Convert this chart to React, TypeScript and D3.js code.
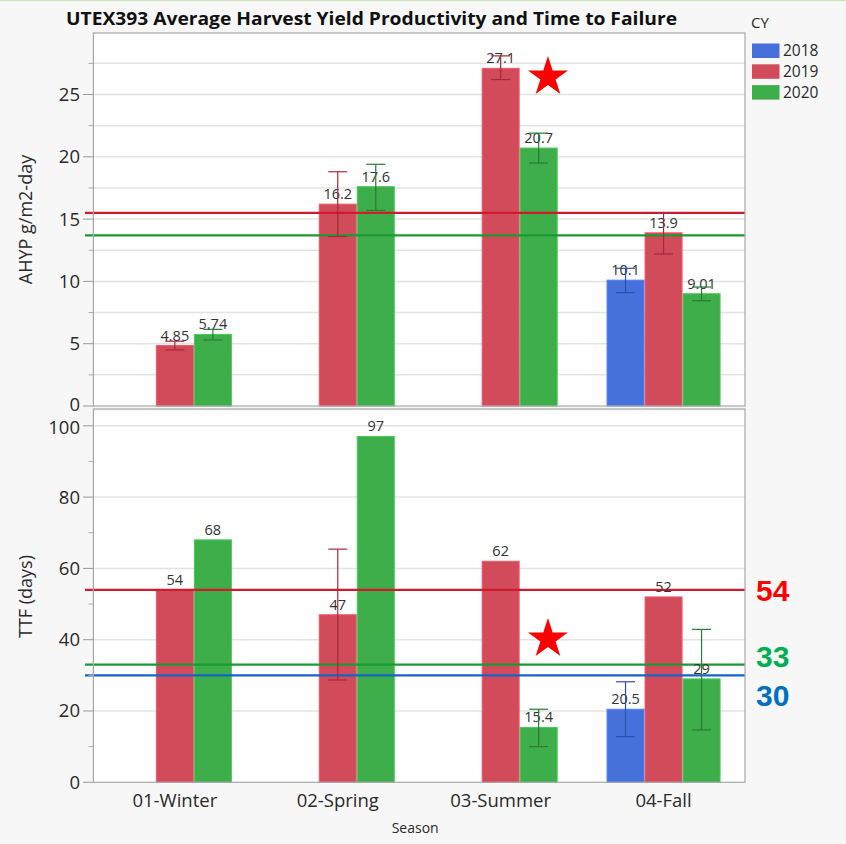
import React from "react";
import * as d3 from "d3";

// Seasons and crop years
const seasons = ["01-Winter", "02-Spring", "03-Summer", "04-Fall"];
const years = ["2018", "2019", "2020"];
const yearColors = ["#4671db", "#d24b5b", "#3dae49"];
const errColors = ["#2d4fae", "#a32a3c", "#2b7a37"];

// Average harvest yield productivity (g/m2-day): means and error-bar limits
const ahypMean2018 = [null, null, null, 10.1];
const ahypMean2019 = [4.85, 16.2, 27.1, 13.9];
const ahypMean2020 = [5.74, 17.6, 20.7, 9.01];
const ahypLow2018 = [null, null, null, 9.1];
const ahypHigh2018 = [null, null, null, 11.05];
const ahypLow2019 = [4.5, 13.6, 26.2, 12.2];
const ahypHigh2019 = [5.2, 18.8, 28.1, 15.5];
const ahypLow2020 = [5.3, 15.7, 19.5, 8.45];
const ahypHigh2020 = [6.15, 19.4, 21.9, 9.55];

// Time to failure (days): means and error-bar limits
const ttfMean2018 = [null, null, null, 20.5];
const ttfMean2019 = [54, 47, 62, 52];
const ttfMean2020 = [68, 97, 15.4, 29];
const ttfLow2018 = [null, null, null, 12.8];
const ttfHigh2018 = [null, null, null, 28.2];
const ttfLow2019 = [null, 28.7, null, null];
const ttfHigh2019 = [null, 65.4, null, null];
const ttfLow2020 = [null, null, 10, 14.7];
const ttfHigh2020 = [null, null, 20.5, 42.9];

// Overall averages drawn as reference lines
const ahypRefValues = [15.5, 13.7];
const ahypRefColors = ["#d11a2e", "#1b9a34"];
const ttfRefValues = [54, 33, 30];
const ttfRefColors = ["#d11a2e", "#1b9a34", "#1463c8"];
const ttfRefLabels = ["54", "33", "30"];
const ttfRefLabelAt = [54, 35.4, 24.5];
const ttfRefLabelColors = ["#ff0000", "#00b050", "#0070c0"];

// Axis ticks
const ahypTicks = [0, 5, 10, 15, 20, 25];
const ahypMinor = [2.5, 7.5, 12.5, 17.5, 22.5, 27.5];
const ttfTicks = [0, 20, 40, 60, 80, 100];
const ttfMinor = [10, 30, 50, 70, 90];

const W = 846;
const H = 844;
const left = 93.4;
const right = 745;
const FONT = "'Open Sans', 'Noto Sans', sans-serif";

const x = d3.scaleBand<string>().domain(seasons).range([left, right]).paddingInner(0.3).paddingOuter(0.15);
const xSub = d3.scaleBand<string>().domain(years).range([0, x.bandwidth()]);
const yTop = d3.scaleLinear().domain([0, 30]).range([406, 32.2]);
const yBot = d3.scaleLinear().domain([0, 100]).range([782.3, 425.8]);
const fmt = d3.format(".3~g");

type Row = { season: string; year: string; yi: number; mean: number; lo: number | null; hi: number | null };

function rows(means: (number | null)[][], lows: (number | null)[][], highs: (number | null)[][]): Row[] {
  const out: Row[] = [];
  years.forEach((year, yi) => {
    seasons.forEach((season, si) => {
      const m = means[yi][si];
      if (m == null) return;
      out.push({ season, year, yi, mean: m, lo: lows[yi][si], hi: highs[yi][si] });
    });
  });
  return out;
}

const ahypRows = rows(
  [ahypMean2018, ahypMean2019, ahypMean2020],
  [ahypLow2018, ahypLow2019, ahypLow2020],
  [ahypHigh2018, ahypHigh2019, ahypHigh2020]
);
const ttfRows = rows(
  [ttfMean2018, ttfMean2019, ttfMean2020],
  [ttfLow2018, ttfLow2019, ttfLow2020],
  [ttfHigh2018, ttfHigh2019, ttfHigh2020]
);

const starPath = d3.symbol().type(d3.symbolStar).size(495)() as string;

function Panel({ data, y, ticks, minor, grid, refs, refColors, top, bottom, tickDy }: any) {
  const bw = xSub.bandwidth();
  return (
    <g>
      <rect x={left} y={top} width={right - left} height={bottom - top} fill="#ffffff" />
      {grid.filter((t: number) => t > 0).map((t: number) => (
        <line key={"g" + t} x1={left} x2={right} y1={y(t)} y2={y(t)} stroke="#e3e3e3" strokeWidth={1.5} />
      ))}
      {data.map((d: Row) => {
        const bx = (x(d.season) as number) + (xSub(d.year) as number);
        return (
          <rect key={"b" + d.season + d.year} x={bx + 0.5} y={y(d.mean)} width={bw - 1} height={y(0) - y(d.mean)}
            fill={yearColors[d.yi]} stroke={d3.color(yearColors[d.yi])!.brighter(0.4).toString()} strokeWidth={1} />
        );
      })}
      {refs.map((v: number, i: number) => (
        <line key={"r" + i} x1={85} x2={right} y1={y(v)} y2={y(v)} stroke={refColors[i]} strokeWidth={2.2} />
      ))}
      {data.map((d: Row) => {
        const cx = (x(d.season) as number) + (xSub(d.year) as number) + bw / 2;
        return (
          <text key={"t" + d.season + d.year} x={cx} y={y(d.mean) - 5} textAnchor="middle" fontFamily={FONT}
            fontSize={14.5} fill="#333">{fmt(d.mean)}</text>
        );
      })}
      {data.filter((d: Row) => d.lo != null).map((d: Row) => {
        const cx = (x(d.season) as number) + (xSub(d.year) as number) + bw / 2;
        const c = errColors[d.yi];
        return (
          <g key={"e" + d.season + d.year} stroke={c} strokeWidth={1.2}>
            <line x1={cx} x2={cx} y1={y(d.lo as number)} y2={y(d.hi as number)} />
            <line x1={cx - 9.5} x2={cx + 9.5} y1={y(d.lo as number)} y2={y(d.lo as number)} />
            <line x1={cx - 9.5} x2={cx + 9.5} y1={y(d.hi as number)} y2={y(d.hi as number)} />
          </g>
        );
      })}
      {ticks.map((t: number) => (
        <g key={"k" + t}>
          <line x1={83} x2={left} y1={y(t)} y2={y(t)} stroke="#999" strokeWidth={1} />
          <text x={80} y={y(t)} dy={tickDy(t)} textAnchor="end" fontFamily={FONT} fontSize={18.5} fill="#2a2a2a">{t}</text>
        </g>
      ))}
      {minor.map((t: number) => (
        <line key={"m" + t} x1={88.5} x2={left} y1={y(t)} y2={y(t)} stroke="#aaa" strokeWidth={1} />
      ))}
    </g>
  );
}

export default function App() {
  const summerX = x("03-Summer") as number;
  return (
    <svg width={W} height={H} style={{ position: "absolute", left: 0, top: 0, display: "block" }}>
      <rect x={0} y={0} width={W} height={H} fill="#f7f7f7" />
      <line x1={0} x2={W} y1={0.5} y2={0.5} stroke="#cfe3bf" strokeWidth={1.5} />
      <text x={66} y={25} fontFamily="'Open Sans', sans-serif" fontWeight="bold" fontSize={18} fill="#111"
        textLength={611} lengthAdjust="spacingAndGlyphs">UTEX393 Average Harvest Yield Productivity and Time to Failure</text>

      <Panel data={ahypRows} y={yTop} ticks={ahypTicks} minor={ahypMinor}
        grid={[...ahypTicks, ...ahypMinor]} refs={ahypRefValues}
        refColors={ahypRefColors} top={33} bottom={406} tickDy={(t: number) => (t === 0 ? "0.25em" : "0.35em")} />
      <Panel data={ttfRows} y={yBot} ticks={ttfTicks} minor={ttfMinor} grid={ttfTicks} refs={ttfRefValues}
        refColors={ttfRefColors} top={411} bottom={782.3} tickDy={(t: number) => (t === 100 ? "0.42em" : "0.35em")} />

      {/* frames */}
      <rect x={left} y={33} width={right - left} height={373} fill="none" stroke="#a8a8a8" strokeWidth={1.2} />
      <rect x={left} y={409} width={right - left} height={373.3} fill="none" stroke="#a8a8a8" strokeWidth={1.2} />

      {/* highlight stars */}
      <path d={starPath} transform={`translate(${summerX + x.bandwidth() * 0.915},${yTop(26.4)})`} fill="#ff0000" />
      <path d={starPath} transform={`translate(${summerX + x.bandwidth() * 0.915},${yBot(40.2)})`} fill="#ff0000" />

      {/* reference values beside the lower panel */}
      {ttfRefLabels.map((s, i) => (
        <text key={s} x={756} y={yBot(ttfRefLabelAt[i])} dy="0.36em" fontFamily="'Liberation Sans', Arial, sans-serif"
          fontWeight="bold" fontSize={30} fill={ttfRefLabelColors[i]}>{s}</text>
      ))}

      {/* axis titles */}
      <text transform={`translate(26,${(33 + 406) / 2}) rotate(-90)`} textAnchor="middle" dy="0.35em"
        fontFamily={FONT} fontSize={18} fill="#2a2a2a">AHYP g/m2-day</text>
      <text transform={`translate(26,${(411 + 782) / 2}) rotate(-90)`} textAnchor="middle" dy="0.35em"
        fontFamily={FONT} fontSize={18} fill="#2a2a2a">TTF (days)</text>

      {seasons.map((s) => (
        <text key={s} x={(x(s) as number) + x.bandwidth() / 2} y={807} textAnchor="middle" fontFamily={FONT}
          fontSize={18.5} fill="#2a2a2a">{s}</text>
      ))}
      <text x={(left + right) / 2 - 4} y={833} textAnchor="middle" fontFamily={FONT} fontSize={14} fill="#2a2a2a">Season</text>

      {/* legend */}
      <text x={751} y={28} fontFamily={FONT} fontSize={15} fill="#2a2a2a">CY</text>
      {years.map((yr, i) => (
        <g key={yr}>
          <rect x={752} y={43.5 + i * 20.8} width={27.5} height={14.5} fill={yearColors[i]} />
          <text x={783} y={43.5 + i * 20.8 + 7.3} dy="0.36em" fontFamily={FONT} fontSize={15.5} fill="#2a2a2a">{yr}</text>
        </g>
      ))}
    </svg>
  );
}
